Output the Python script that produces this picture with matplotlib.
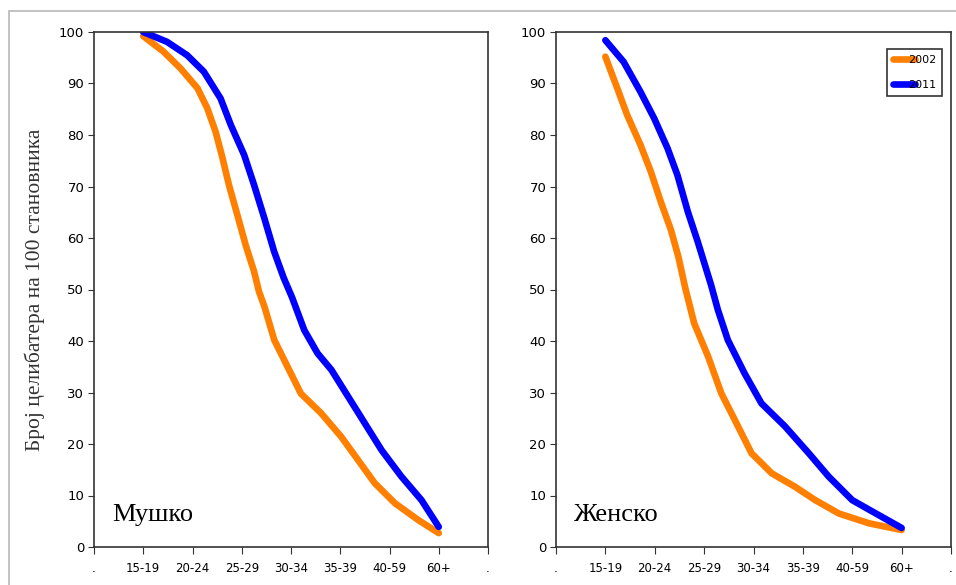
import matplotlib.pyplot as plt
import matplotlib.patches as patches

# age groups on the x axis (the dots are the empty end slots)
age_labels = ['.', '15-19', '20-24', '25-29', '30-34', '35-39', '40-59', '60+', '.']

# Мушко (male)
m2002_x = [1.0, 1.41, 1.76, 2.10, 2.30, 2.47, 2.61, 2.74, 2.91, 3.08, 3.25, 3.35, 3.46, 3.66, 3.93, 4.20,
           4.61, 5.02, 5.36, 5.70, 6.11, 6.59, 7.0]
m2002_y = [99.2, 96.2, 92.9, 89.1, 85.2, 80.6, 75.5, 70.3, 64.5, 58.6, 53.5, 49.6, 46.7, 40.2, 35.0, 29.8,
           26.0, 21.4, 16.9, 12.4, 8.5, 5.2, 2.7]
m2011_x = [1.0, 1.48, 1.89, 2.23, 2.57, 2.78, 3.05, 3.25, 3.46, 3.66, 3.85, 4.02, 4.27, 4.54, 4.82, 5.16,
           5.50, 5.84, 6.24, 6.65, 7.0]
m2011_y = [100.0, 98.1, 95.5, 92.3, 87.1, 81.9, 76.1, 70.3, 63.8, 57.3, 52.3, 48.5, 42.1, 37.6, 34.4, 29.2,
           24.0, 18.8, 13.7, 9.1, 3.9]

# Женско (female)
f2002_x = [1.0, 1.24, 1.44, 1.71, 1.92, 2.12, 2.33, 2.48, 2.62, 2.80, 3.08, 3.35, 3.62, 3.96, 4.37, 4.84,
           5.25, 5.73, 6.34, 7.0]
f2002_y = [95.2, 89.1, 83.9, 78.1, 72.9, 67.1, 61.5, 56.3, 50.2, 43.4, 37.0, 29.8, 24.7, 18.2, 14.3, 11.7,
           9.1, 6.5, 4.6, 3.3]
f2011_x = [1.0, 1.37, 1.71, 1.99, 2.26, 2.46, 2.67, 2.87, 3.14, 3.28, 3.48, 3.82, 4.16, 4.64, 5.12, 5.52,
           6.0, 6.48, 7.0]
f2011_y = [98.4, 94.2, 88.4, 83.2, 77.4, 72.2, 65.1, 59.3, 50.9, 46.0, 40.2, 33.7, 27.9, 23.4, 18.2, 13.7,
           9.1, 6.5, 3.7]

c2002 = '#ff7f00'
c2011 = '#0000ff'

fig = plt.figure(figsize=(9.56, 5.85), dpi=100)

# light outer frame
fig.patches.append(patches.Rectangle((9/956, -0.05), 1.0, 1 - 11/585 + 0.05,
                                     transform=fig.transFigure, fill=False,
                                     edgecolor='#b8b8b8', linewidth=1.2))

ax1 = fig.add_axes([94/956, 1 - 547/585, 394/956, 515/585])
ax2 = fig.add_axes([556/956, 1 - 547/585, 395/956, 515/585])

for ax, x02, y02, x11, y11, title in [
        (ax1, m2002_x, m2002_y, m2011_x, m2011_y, 'Мушко'),
        (ax2, f2002_x, f2002_y, f2011_x, f2011_y, 'Женско')]:
    ax.plot(x02, y02, color=c2002, lw=4.8, solid_capstyle='round',
            solid_joinstyle='round', label='2002')
    ax.plot(x11, y11, color=c2011, lw=4.8, solid_capstyle='round',
            solid_joinstyle='round', label='2011')
    ax.set_xlim(0, 8)
    ax.set_ylim(0, 100)
    ax.set_xticks(range(len(age_labels)))
    ax.set_xticklabels(age_labels, fontsize=8.5, fontfamily='DejaVu Sans')
    ax.set_yticks(range(0, 101, 10))
    ax.tick_params(axis='y', labelsize=9.5, length=4, color='#333333', pad=3)
    ax.tick_params(axis='x', length=5, color='#333333', pad=6)
    for s in ax.spines.values():
        s.set_color('#333333')
        s.set_linewidth(1.2)
    ax.text(0.37, 6.2, title, fontsize=19, fontfamily='Liberation Serif', va='center')

ax1.set_ylabel('Број целибатера на 100 становника', fontsize=15.5,
               fontfamily='Liberation Serif', color='#333333', labelpad=10)

leg = ax2.legend(loc='upper right', bbox_to_anchor=(0.977, 0.967), fontsize=8,
                 frameon=True, fancybox=False, edgecolor='black',
                 handlelength=2.0, handletextpad=-0.6, borderpad=0.5,
                 labelspacing=1.4, borderaxespad=0)
leg.get_frame().set_linewidth(1.2)

fig.savefig('out.png', dpi=100)
